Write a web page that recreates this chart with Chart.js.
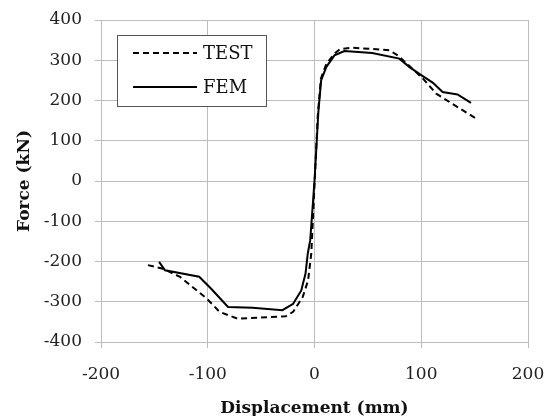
<!DOCTYPE html>
<html>
<head>
<meta charset="utf-8">
<script src="https://cdn.jsdelivr.net/npm/chart.js@4/dist/chart.umd.min.js"></script>
<style>
  html, body { margin: 0; padding: 0; background: #fff; }
  #wrap { width: 548px; height: 416px; }
</style>
</head>
<body>
<div id="wrap"><canvas id="c" width="548" height="416"></canvas></div>
<script>
// Displacement (mm) / Force (kN)
const testX = [-156, -142, -126, -101, -89, -72, -50, -27, -20, -11, -6, -3, 0, 3, 6, 11, 18, 24, 36, 55, 70, 78, 90, 101, 114, 129, 151];
const testY = [-209, -218, -238, -292, -325, -342, -339, -336, -325, -288, -247, -180, -10, 160, 255, 290, 315, 328, 331, 328, 325, 312, 283, 256, 217, 192, 156];
const femX = [-145.6, -140, -108, -97, -81, -58, -30, -20, -12.4, -8.4, -6.3, -4, 0, 3.7, 6.2, 11, 18.7, 28, 54, 79.5, 89, 100, 111, 120, 134, 146.6];
const femY = [-201, -222, -238, -267, -313, -315, -321, -305, -272, -230, -180, -147, 0, 175, 250, 283, 312, 323, 318, 304, 283, 263, 244, 221, 215, 194];
const xTicks = [-200, -100, 0, 100, 200];
const yTicks = [-400, -300, -200, -100, 0, 100, 200, 300, 400];
const seriesNames = ['TEST', 'FEM'];

function pts(xs, ys) { return xs.map((x, i) => ({ x: x, y: ys[i] })); }

const legendBox = {
  id: 'legendBox',
  afterDraw(chart) {
    const ctx = chart.ctx;
    ctx.save();
    ctx.fillStyle = '#fff';
    ctx.fillRect(117, 35, 149, 71);
    ctx.strokeStyle = '#555';
    ctx.lineWidth = 1;
    ctx.strokeRect(117.5, 35.5, 149, 71);
    const rows = [53, 87];
    chart.data.datasets.forEach((ds, i) => {
      ctx.strokeStyle = ds.borderColor;
      ctx.lineWidth = ds.borderWidth;
      ctx.setLineDash(ds.borderDash || []);
      ctx.beginPath();
      ctx.moveTo(133, rows[i]);
      ctx.lineTo(197, rows[i]);
      ctx.stroke();
      ctx.setLineDash([]);
      ctx.fillStyle = '#111';
      ctx.font = '18px "DejaVu Serif"';
      ctx.textBaseline = 'middle';
      ctx.textAlign = 'left';
      ctx.fillText(ds.label, 203, rows[i] + 1);
    });
    ctx.restore();
  }
};

const gridCol = '#bdbdbd';
new Chart(document.getElementById('c'), {
  type: 'scatter',
  data: {
    datasets: [
      { label: seriesNames[0], data: pts(testX, testY), showLine: true, borderColor: '#000', borderWidth: 2, borderDash: [6, 4], pointRadius: 0, tension: 0, fill: false },
      { label: seriesNames[1], data: pts(femX, femY), showLine: true, borderColor: '#000', borderWidth: 2, pointRadius: 0, tension: 0, fill: false }
    ]
  },
  options: {
    responsive: false,
    animation: false,
    events: [],
    layout: { padding: { top: 20, right: 20, left: 0, bottom: 0 } },
    plugins: { legend: { display: false }, tooltip: { enabled: false } },
    scales: {
      x: {
        type: 'linear', min: -200, max: 200,
        afterBuildTicks: (s) => { s.ticks = xTicks.map(v => ({ value: v })); },
        afterFit: (s) => { s.height = 74; s.paddingLeft = 0; s.paddingRight = 0; },
        grid: { color: gridCol, lineWidth: 1, tickLength: 6, drawTicks: true },
        border: { color: gridCol, width: 1 },
        ticks: { color: '#222', padding: 16, font: { family: 'DejaVu Serif', size: 17 }, maxRotation: 0 },
        title: { display: true, text: 'Displacement (mm)', color: '#111', font: { family: 'DejaVu Serif', size: 17, weight: 'bold' }, padding: { top: 0, bottom: -3 } }
      },
      y: {
        type: 'linear', min: -400, max: 400,
        afterBuildTicks: (s) => { s.ticks = yTicks.map(v => ({ value: v })); },
        afterFit: (s) => { s.width = 101; s.paddingTop = 0; s.paddingBottom = 0; },
        grid: { color: gridCol, lineWidth: 1, tickLength: 6, drawTicks: true },
        border: { color: gridCol, width: 1 },
        ticks: { color: '#222', padding: 13, font: { family: 'DejaVu Serif', size: 17 } },
        title: { display: true, text: 'Force (kN)', color: '#111', font: { family: 'DejaVu Serif', size: 17, weight: 'bold' }, padding: { top: 14, bottom: 0 } }
      }
    }
  },
  plugins: [legendBox]
});
</script>
</body>
</html>
